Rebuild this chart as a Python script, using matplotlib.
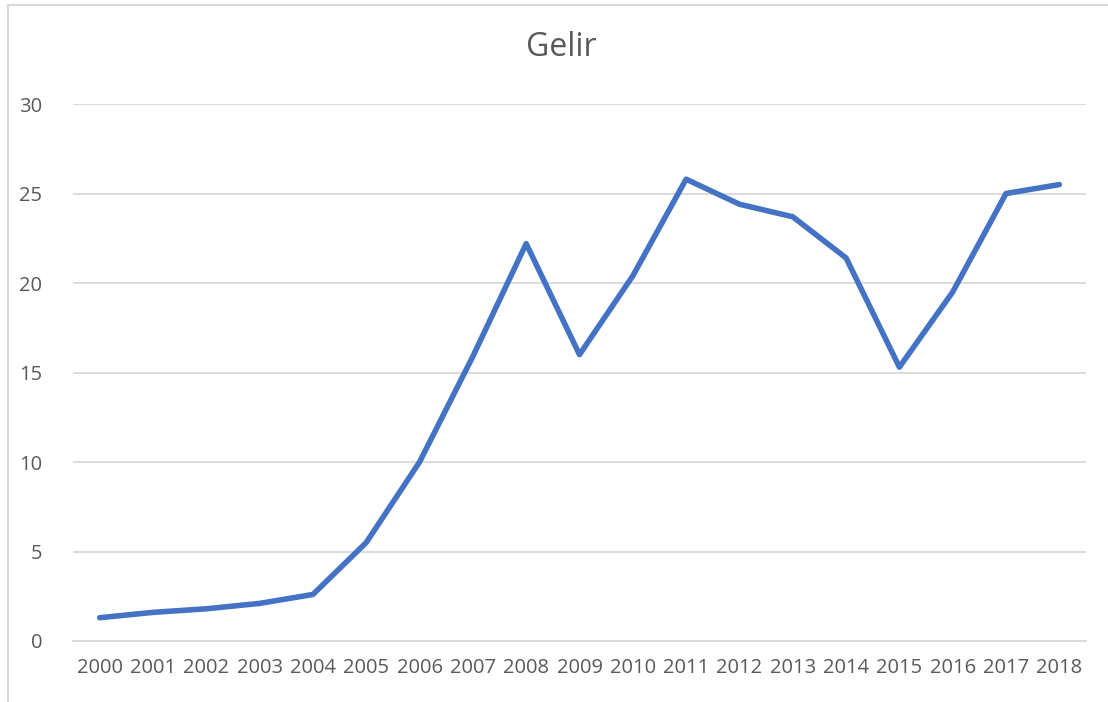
import matplotlib
matplotlib.use("Agg")
import matplotlib.pyplot as plt
from matplotlib.patches import Rectangle

plt.rcParams['font.family'] = ['Open Sans', 'DejaVu Sans']

# veriler
yillar = [str(y) for y in range(2000, 2019)]
gelir = [1.3, 1.6, 1.8, 2.1, 2.6, 5.5, 10.0, 15.9, 22.2, 16.0,
         20.4, 25.8, 24.4, 23.7, 21.4, 15.3, 19.5, 25.0, 25.5]
y_ticks = [0, 5, 10, 15, 20, 25, 30]

W, H = 1108, 702
fig = plt.figure(figsize=(W / 100, H / 100), dpi=100)
ax = fig.add_axes([73 / W, 1 - 641 / H, (1086 - 73) / W, (641 - 104) / H])

# grafik alanı çerçevesi
fig.patches.append(Rectangle((8 / W, -0.05), 1.2, 1 - 5 / H + 0.05,
                             transform=fig.transFigure, fill=False,
                             edgecolor='#D9D9D9', linewidth=1.5))

x = list(range(len(yillar)))
ax.plot(x, gelir, color='#4472C4', linewidth=4, solid_capstyle='round',
        solid_joinstyle='round', zorder=3)

ax.set_xlim(-0.5, len(yillar) - 0.5)
ax.set_ylim(0, 30)
ax.set_yticks(y_ticks)
ax.set_xticks(x)
ax.set_xticklabels(yillar)
ax.grid(axis='y', color='#D9D9D9', linewidth=1.3)
ax.set_axisbelow(True)
for s in ['top', 'right', 'left']:
    ax.spines[s].set_visible(False)
ax.spines['bottom'].set_color('#D9D9D9')
ax.spines['bottom'].set_linewidth(1.3)
ax.tick_params(axis='both', length=0, labelsize=14.5, labelcolor='#595959')
ax.tick_params(axis='y', pad=22)
ax.tick_params(axis='x', pad=12)

fig.text(561 / W, 1 - 48 / H, 'Gelir', ha='center', va='center',
         fontsize=23, color='#595959')

fig.savefig('out.png', dpi=100)
